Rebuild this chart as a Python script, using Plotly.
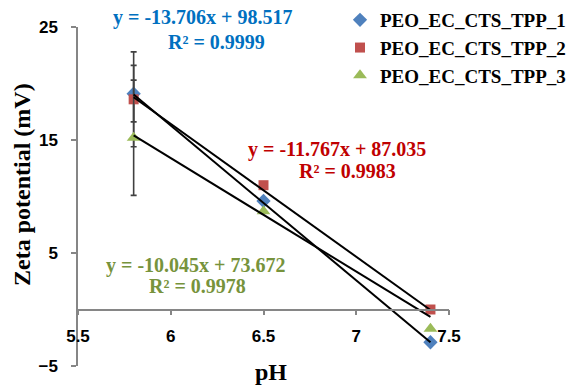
import plotly.graph_objects as go

# Zeta potential vs pH for three PEO/EC/CTS/TPP formulations
ph = [5.8, 6.5, 7.4]
names = ["PEO_EC_CTS_TPP_1", "PEO_EC_CTS_TPP_2", "PEO_EC_CTS_TPP_3"]
zeta_1 = [19.1, 9.6, -2.9]
zeta_2 = [18.6, 11.0, 0.0]
zeta_3 = [15.2, 8.7, -1.7]
err_1 = [2.5, 0, 0]
err_2 = [4.2, 0, 0]
err_3 = [5.1, 0, 0]

# linear trendline coefficients (slope, intercept) and R²
slopes = [-13.706, -11.767, -10.045]
intercepts = [98.517, 87.035, 73.672]
r2 = ["0.9999", "0.9983", "0.9978"]

x_ticks = [5.5, 6, 6.5, 7, 7.5]
y_ticks = [-5, 5, 15, 25]

marker_colors = ["#4F81BD", "#C0504D", "#9BBB59"]
symbols = ["diamond", "square", "triangle-up"]
marker_sizes = [11, 10, 12]
text_colors = ["#0070C0", "#C00000", "#77933C"]
serif = "Liberation Serif, Times New Roman, serif"
sans = "Liberation Sans, Arial, sans-serif"
axis_grey = "#868686"

# plot area in pixels: left 78, right 449, top 27, bottom 366
L, R, T, B = 78, 449, 27, 366


def px(x):
    return (x - L) / (R - L)


def py(y):
    return (B - y) / (B - T)


fig = go.Figure()

series = [zeta_1, zeta_2, zeta_3]
errors = [err_1, err_2, err_3]
for i in range(3):
    fig.add_trace(go.Scatter(
        x=ph, y=series[i], mode="markers", name=names[i],
        legendgroup=names[i],
        marker=dict(symbol=symbols[i], color=marker_colors[i],
                    size=marker_sizes[i], line=dict(width=0)),
        error_y=dict(type="data", array=errors[i], visible=True,
                     color="#404040", thickness=1.6, width=3),
        cliponaxis=False,
    ))

# trendlines drawn from the fitted equations
for i in range(3):
    xs = [ph[0], ph[-1]]
    ys = [slopes[i] * x + intercepts[i] for x in xs]
    fig.add_trace(go.Scatter(
        x=xs, y=ys, mode="lines", showlegend=False, hoverinfo="skip",
        line=dict(color="black", width=2), cliponaxis=False,
    ))

# equation labels: (eq centre x, eq y, R² centre x, R² y) in pixels
label_pos = [
    (202, 17, 216, 42),
    (337, 149, 347, 171),
    (195, 265, 197, 286),
]
for i in range(3):
    ex, ey, rx, ry = label_pos[i]
    eq = f"y = {slopes[i]:.3f}x + {intercepts[i]:.3f}"
    fig.add_annotation(x=px(ex), y=py(ey), xref="paper", yref="paper",
                       xanchor="center", yanchor="middle",
                       text=f"<b>{eq}</b>", showarrow=False,
                       font=dict(family=serif, size=20, color=text_colors[i]))
    fig.add_annotation(x=px(rx), y=py(ry), xref="paper", yref="paper",
                       xanchor="center", yanchor="middle",
                       text=f"<b>R² = {r2[i]}</b>", showarrow=False,
                       font=dict(family=serif, size=20, color=text_colors[i]))

# axis titles
fig.add_annotation(x=px(22), y=py(185), xref="paper", yref="paper",
                   xanchor="center", yanchor="middle",
                   text="<b>Zeta potential (mV)</b>", textangle=-90,
                   showarrow=False,
                   font=dict(family=serif, size=24, color="black"))
fig.add_annotation(x=px(271), y=py(372), xref="paper", yref="paper",
                   xanchor="center", yanchor="middle",
                   text="<b>pH</b>", showarrow=False,
                   font=dict(family=serif, size=24, color="black"))

fig.update_layout(
    width=566, height=385,
    margin=dict(l=L, r=566 - R, t=T, b=385 - B, autoexpand=False),
    paper_bgcolor="white", plot_bgcolor="white",
    showlegend=True,
    legend=dict(x=px(340), y=py(1), xanchor="left", yanchor="top",
                traceorder="grouped", tracegroupgap=0,
                font=dict(family=serif, size=19, color="black",
                          weight="bold"),
                bgcolor="rgba(0,0,0,0)"),
    xaxis=dict(range=[5.5, 7.5], tickvals=x_ticks,
               ticktext=[f"{v:g}" for v in x_ticks],
               anchor="free", position=1 / 6,
               showline=True, linecolor=axis_grey, linewidth=1.5,
               ticks="outside", ticklen=5, tickcolor=axis_grey, tickwidth=1.5,
               showgrid=False, zeroline=False, ticklabelstandoff=6,
               tickfont=dict(family=sans, size=17, color="black", weight="bold")),
    yaxis=dict(range=[-5, 25], tickvals=y_ticks,
               showline=True, linecolor=axis_grey, linewidth=1.5,
               ticks="outside", ticklen=5, tickcolor=axis_grey, tickwidth=1.5,
               showgrid=False, zeroline=False, ticklabelstandoff=10,
               tickfont=dict(family=sans, size=17, color="black", weight="bold")),
)

fig.write_html("out.html")
